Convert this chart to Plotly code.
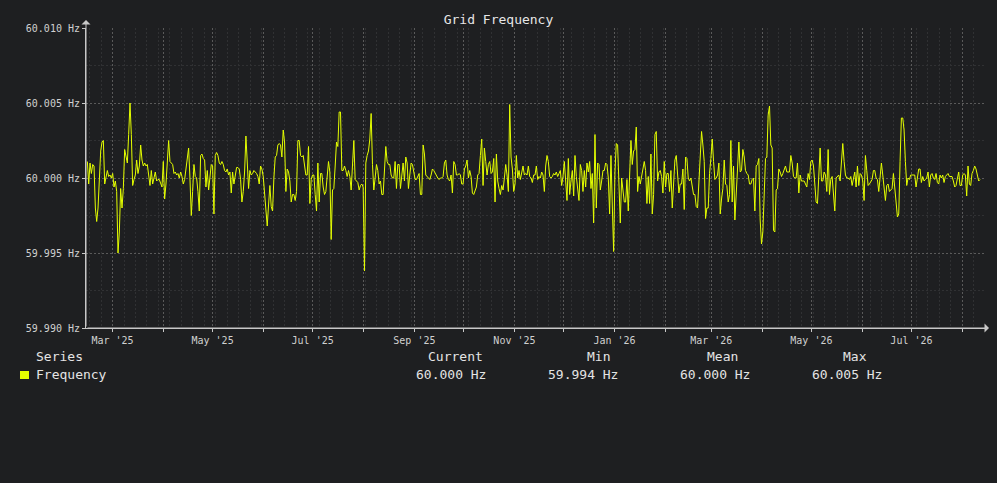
import pandas as pd
import plotly.graph_objects as go

# ---- data: deviation from 60 Hz in mHz, left to right ----
seg_a = [1.1, -0.4, 1.0, 0.3, 0.9, 0.8, -2.0, -2.9, -2.0, 0.0,
         1.8, 2.4, 2.5, -0.4, 0.0, 0.5, 0.1, 0.2, 0.0, 0.3,
         -0.6, -0.2, -0.9, -5.0, -3.6, -0.7, -2.0, -0.7, 1.9, 1.4,
         1.0, 2.9, 5.0, 2.9, -0.5, -0.1, 0.2, 1.2, 0.3, 0.8,
         2.2, 1.2, 0.8, 1.0, 0.8, 0.9, 0.1, -0.5, 0.5, -0.4,
         0.0, 0.4, -0.2, -0.1, -0.1, -0.4, -0.6, 1.1, -1.4, -0.4,
         0.8, 2.5, 1.1, 1.0, 0.9, 0.3, 0.4, 0.2, 0.3, 0.0,
         0.4, 0.1, -0.4, -0.1, 0.6, 1.1, 2.0]
seg_b = [0.0, -2.5, -0.9, 0.9, 0.1, 0.0, -0.9, -2.2, 1.5, 1.6,
         1.3, 1.2, -0.6, 0.5, -0.8, -0.1, 0.9, 0.8, -2.4, 1.5,
         1.7, 1.5, 1.0, 0.9, 1.1, 0.9, 0.5, 0.4, 0.6, 0.2,
         0.4, -1.0, 0.4, -0.4, 0.1, 0.7, 0.7, 0.6, -0.1, -1.6,
         -0.9, 0.4, 2.8, 1.3, -0.7, 0.5, 0.2, 0.3, 0.5, 0.4,
         0.3, 0.1, -0.4, 0.8, 0.6, 0.1, -1.1, -1.8, -3.2, -1.8,
         -0.5, -1.9, -2.2, 0.0, 1.4, 1.5, 2.2, 2.3, 2.2, 1.4,
         3.2, 2.4, -0.9, 0.6, 0.4]
seg_c = [-0.2, -1.6, -1.1, -1.1, -1.5, -0.9, 2.5, 2.5, 1.5, 1.4,
         1.5, 0.6, 0.2, 0.2, 2.1, -1.7, -0.1, 0.2, 0.2, -1.1,
         -2.2, 1.0, -1.6, 0.3, 0.3, -0.6, -1.1, -0.9, -0.1, 1.1,
         0.4, -4.1, -0.8, -0.7, 0.8, 2.4, 2.1, 4.4, 4.4, 0.5,
         0.5, 0.8, 0.5, 0.1, 0.5, 0.1, -0.8, 0.6, 2.5, -0.1,
         -0.2, -0.3, -0.8, -0.5, -0.4, -0.6, -6.2, 1.0, 1.5, 1.8,
         2.6, 4.3, 0.9, -0.8, 0.0, 0.9, 0.5, -0.4, -0.2, -1.1,
         -1.1, 0.5, 2.1, 1.1, 0.9]
seg_d = [0.9, 0.2, 0.0, 0.0, 1.1, -0.7, 0.9, 0.9, -0.7, 0.1,
         1.0, -0.2, 1.4, 1.0, -0.7, 0.2, 1.0, 0.9, 0.5, -0.1,
         -0.1, 0.1, 0.3, -1.1, -1.1, 2.2, 1.6, 0.2, 0.1, 0.0,
         -0.1, 0.2, 0.6, 0.5, 0.3, 0.1, 0.0, -0.1, 0.0, 0.0,
         0.1, 1.0, 1.2, 0.2, -0.1, -0.2, 0.2, -1.0, 1.1, 0.9,
         0.2, 0.2, 0.3, 0.2, -0.4, -0.4, 0.6, 0.8, 1.2, 0.0,
         0.5, 0.1, -1.0, -1.1, -0.8, -0.6, 0.2, 0.3, 1.5, 2.6,
         -0.5, 2.0, 1.1, 0.2, 0.9]
seg_e = [1.1, 0.3, 0.4, 1.3, -1.6, 1.6, -0.2, -0.7, -1.1, -0.5,
         -0.8, 0.0, 0.9, 0.2, -0.9, 4.9, 1.4, 0.6, -0.9, -0.4,
         1.5, 0.0, 0.5, -0.1, 0.3, 0.8, 0.2, 0.3, 0.2, 0.8,
         0.1, 0.0, -0.3, 0.2, 0.2, 0.8, -0.1, 0.1, 0.0, 0.4,
         0.2, -0.9, 0.8, 1.5, 1.1, 0.1, 0.0, 0.1, 0.3, 0.2,
         0.4, 0.1, 0.3, 0.5, -0.5, 0.1, 1.1, 0.0, -1.5, 1.3,
         -1.1, -0.2, 0.5, -1.2, 1.5, 0.1, -1.0, -1.5, 0.9, 0.5,
         -0.9, 0.5, -0.6, 1.0, 0.4]
seg_f = [1.1, -0.7, 0.3, -3.0, 2.9, -2.0, 1.0, 0.9, -0.8, -0.2,
         0.5, 0.5, 1.0, 0.9, 0.0, -2.4, 1.5, -1.8, -4.9, 0.4,
         2.3, 2.2, -0.9, -3.0, 0.0, -0.7, -1.6, -1.6, -0.1, -2.2,
         0.9, 2.5, 0.9, 1.8, 1.9, 3.4, -0.9, 0.1, -0.4, 0.2,
         0.6, 1.1, 0.5, -1.7, 0.1, -1.7, 1.6, -2.4, -1.1, 2.9,
         3.1, -0.2, 0.4, 0.5, 0.1, -1.0, 1.1, -0.6, 0.3, 0.3,
         -0.9, 0.5, -2.0, -0.2, 1.2, 1.5, 0.4, -1.0, -0.4, -0.4,
         0.6, -2.1, 1.4, 1.3, 0.0]
seg_g = [-0.2, 0.0, -0.5, -1.1, -1.1, -1.9, -2.0, -0.5, 1.1, 3.1,
         2.2, 1.1, -2.7, -2.0, -2.0, 0.3, 1.3, 2.6, 1.1, -0.1,
         0.0, 0.2, 1.0, -2.4, -1.4, -0.7, 1.2, -0.4, -0.5, -1.6,
         -1.1, 2.5, -1.6, 0.8, -2.8, -1.4, 0.6, 2.4, 0.4, 0.5,
         1.9, 1.4, 0.5, 0.3, 0.2, -0.4, -0.4, -0.1, 0.0, -2.2,
         0.8, 0.9, 1.3, -2.8, -4.4, -3.6, -1.4, 1.3, 1.4, 4.2,
         4.8, 2.2, 2.0, -3.5, -3.6, -0.8, -0.7, 0.6, 0.4, 0.1,
         0.3, 0.5, 0.8, 0.4, 0.4]
seg_h = [0.4, 1.5, 1.0, 0.1, 0.0, 0.0, 1.0, -1.0, 0.2, -0.2,
         -0.2, -0.2, -0.4, -0.6, 0.3, -0.1, 1.1, 1.2, 0.8, -0.6,
         -1.6, -1.7, 0.4, 2.0, -0.2, -0.2, 0.4, 0.2, -0.9, 1.9,
         -1.1, -0.1, 0.1, -0.9, -2.2, 0.0, 0.1, 0.2, -0.2, 0.8,
         2.3, 1.1, 0.2, 0.0, 0.0, -0.1, 0.1, -0.5, -0.1, 0.4,
         -0.6, 0.8, -0.5, 0.3, 0.2, -0.2, -1.5, 1.5, 0.5, -0.5,
         -0.4, -0.2, -0.1, 0.5, 0.5, 0.0, -0.1, -0.9, 0.4, 1.0,
         0.2, -0.5, -1.5, -0.5, -0.4]
seg_i = [-0.9, -0.8, -0.7, 0.3, -0.5, -1.6, -2.6, -2.4, 1.1, 4.0,
         4.0, 3.2, 1.1, -0.5, 0.0, -0.1, 0.2, 0.2, 0.2, 0.2,
         -0.6, 0.0, 0.6, 0.6, -0.3, 0.1, -0.2, -0.1, 0.0, 0.4,
         -0.6, 0.2, 0.3, 0.0, -0.1, 0.3, -0.3, -0.4, 0.2, 0.0,
         0.2, -0.3, 0.1, 0.2, 0.3, 0.1, 0.1, 0.1, -0.2, -0.6,
         -0.5, 0.1, 0.4, -0.5, -0.5, 0.2, 0.3, 0.2, -1.2, 0.8,
         -0.4, -0.5, 0.3, 0.5, 0.8, 0.6, 0.1, -0.2, -0.1]

first_sample = "2025-02-13 16:00"
last_sample = "2026-08-11 19:00"
x_range = ["2025-02-12 20:00", "2026-08-14 20:00"]
y_ticks = [59.990, 59.995, 60.000, 60.005, 60.010]
series_name = "Frequency"
stat_headers = ["Current", "Min", "Mean", "Max"]

offsets_mhz = seg_a + seg_b + seg_c + seg_d + seg_e + seg_f + seg_g + seg_h + seg_i
dates = pd.date_range(first_sample, last_sample, periods=len(offsets_mhz))
freq = [60.0 + v / 1000.0 for v in offsets_mhz]

month_ticks = pd.date_range("2025-03-01", "2026-08-01", freq="MS")
month_text = [d.strftime("%b '%y") if i % 2 == 0 else "" for i, d in enumerate(month_ticks)]

stats = [freq[-1], min(freq), sum(freq) / len(freq), max(freq)]
stat_text = [f"{v:.3f} Hz" for v in stats]

# ---- style ----
BG = "#1e1f21"
LINE = "#e5ff00"
AXIS = "#c8c8c8"
GRID = "#5a5a5a"
MINOR = "#303133"
FONT = "DejaVu Sans Mono"
W, H = 997, 483
PL, PR, PT, PB = 86, 985, 28, 328


def px(x):
    return (x - PL) / (PR - PL)


def py(y):
    return (PB - y) / (PB - PT)


fig = go.Figure()
fig.add_trace(go.Scatter(x=dates, y=freq, mode="lines", name=series_name,
                         line=dict(color=LINE, width=1), showlegend=False))

fig.update_layout(
    width=W, height=H,
    paper_bgcolor=BG, plot_bgcolor=BG,
    margin=dict(l=PL, r=W - PR, t=PT, b=H - PB),
    font=dict(family=FONT, color="#d8d8d8", size=10),
    title=dict(text="Grid Frequency", x=0.5, xanchor="center", xref="container",
               y=1 - 19 / H, yanchor="middle", yref="container",
               font=dict(family=FONT, size=13, color="#e6e6e6")),
)

fig.update_xaxes(
    type="date", range=x_range,
    tickvals=month_ticks, ticktext=month_text,
    ticks="outside", ticklen=3, tickcolor=AXIS, tickwidth=1,
    tickfont=dict(family=FONT, size=10, color="#d0d0d0"),
    showgrid=True, gridcolor=GRID, griddash="2px,2px", gridwidth=1,
    minor=dict(dtick=7 * 86400000, tick0="2025-03-01", showgrid=True,
               gridcolor=MINOR, griddash="2px,2px", gridwidth=1, ticks=""),
    showline=True, linecolor=AXIS, linewidth=1, zeroline=False,
)
fig.update_yaxes(
    range=[59.990, 60.010],
    tickvals=y_ticks, ticktext=[f"{v:.3f} Hz" for v in y_ticks],
    ticks="outside", ticklen=3, tickcolor=AXIS, tickwidth=1,
    tickfont=dict(family=FONT, size=10, color="#d0d0d0"),
    showgrid=True, gridcolor=GRID, griddash="2px,2px", gridwidth=1,
    minor=dict(dtick=0.0025, tick0=59.990, showgrid=True,
               gridcolor=MINOR, griddash="2px,2px", gridwidth=1, ticks=""),
    showline=True, linecolor=AXIS, linewidth=1, zeroline=False,
)

anns = []
# axis arrows
anns.append(dict(xref="paper", yref="paper", x=px(86), y=py(20), ax=0, ay=308,
                 text="", showarrow=True, arrowhead=1, arrowsize=1.5, arrowwidth=1,
                 arrowcolor=AXIS))
anns.append(dict(xref="paper", yref="paper", x=px(989), y=py(328), ax=-903, ay=0,
                 text="", showarrow=True, arrowhead=1, arrowsize=1.5, arrowwidth=1,
                 arrowcolor=AXIS))

# legend table
hdr_left = [427.0, 586.2, 706.2, 842.0]
val_left = [414.8, 547.2, 679.4, 810.8]
LEG_FONT = dict(family=FONT, size=13, color="#e4e4e4")
anns.append(dict(xref="paper", yref="paper", x=px(35), y=py(356), text="Series",
                 showarrow=False, xanchor="left", yanchor="middle", font=LEG_FONT, borderpad=0))
anns.append(dict(xref="paper", yref="paper", x=px(35), y=py(374.5), text=series_name,
                 showarrow=False, xanchor="left", yanchor="middle", font=LEG_FONT, borderpad=0))
for h, xl in zip(stat_headers, hdr_left):
    anns.append(dict(xref="paper", yref="paper", x=px(xl), y=py(356), text=h,
                     showarrow=False, xanchor="left", yanchor="middle", font=LEG_FONT, borderpad=0))
for t, xl in zip(stat_text, val_left):
    anns.append(dict(xref="paper", yref="paper", x=px(xl), y=py(374.5), text=t,
                     showarrow=False, xanchor="left", yanchor="middle", font=LEG_FONT, borderpad=0))
fig.update_layout(annotations=anns)

fig.add_shape(type="rect", xref="paper", yref="paper",
              x0=px(20), x1=px(29), y0=py(379), y1=py(371),
              fillcolor=LINE, line=dict(width=0))

fig.write_html(
    "out.html",
    config={"displayModeBar": False},
    post_script="document.body.style.margin='0';document.body.style.background='%s';" % BG,
)
